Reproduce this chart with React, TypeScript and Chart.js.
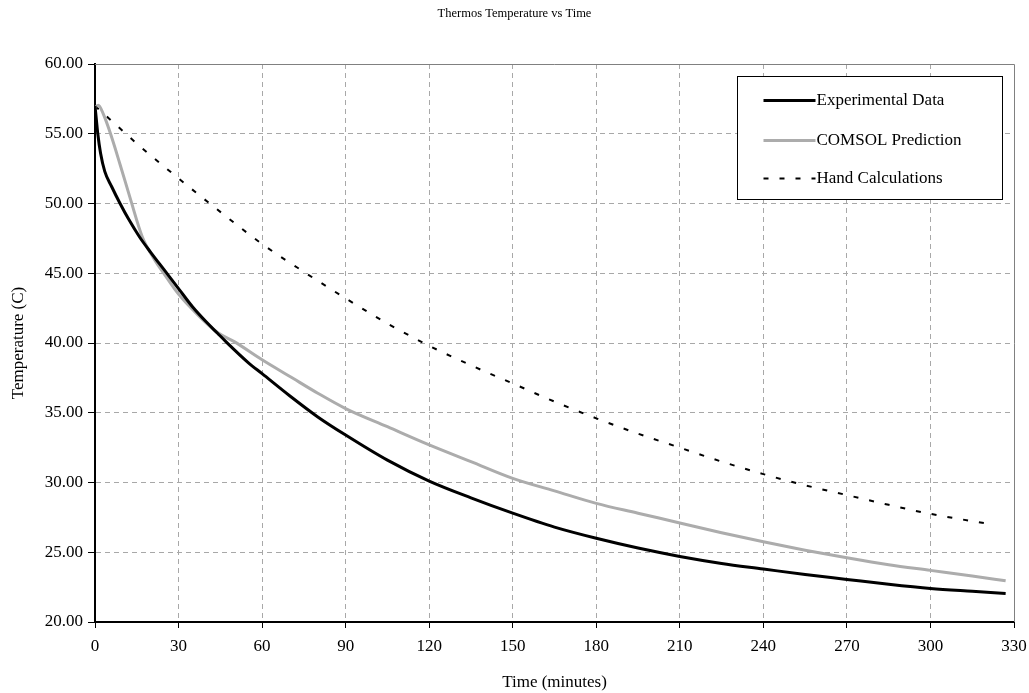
import React, { useEffect, useRef } from "react";
import { Chart, registerables } from "chart.js";

Chart.register(...registerables);

const chartTitle = "Thermos Temperature vs Time";
const xTitle = "Time (minutes)";
const yTitle = "Temperature (C)";
const seriesNames = ["Experimental Data", "COMSOL Prediction", "Hand Calculations"];

const xTicks = [0, 30, 60, 90, 120, 150, 180, 210, 240, 270, 300, 330];
const yTicks = [20, 25, 30, 35, 40, 45, 50, 55, 60];

const expTime = [0, 0.5, 1, 2, 3.5, 6, 9, 12, 16, 20, 25, 30, 35, 40, 44, 47, 55, 60, 70, 80, 90, 105, 120, 135, 150, 165, 180, 195, 210, 225, 240, 255, 270, 285, 300, 315, 327];
const expTemp = [57.0, 56.0, 55.0, 53.6, 52.3, 51.2, 50.0, 48.9, 47.6, 46.5, 45.2, 43.9, 42.6, 41.5, 40.7, 40.1, 38.6, 37.8, 36.2, 34.7, 33.4, 31.6, 30.1, 28.9, 27.8, 26.8, 26.0, 25.3, 24.7, 24.2, 23.8, 23.4, 23.05, 22.7, 22.4, 22.2, 22.05];

const comTime = [0, 1.2, 3, 5.4, 9, 12.6, 17, 21, 25, 30, 37, 44, 50, 60, 70, 80, 90, 105, 120, 135, 150, 165, 180, 195, 210, 225, 240, 255, 270, 285, 300, 315, 327];
const comTemp = [56.9, 57.05, 56.4, 55.1, 52.8, 50.4, 47.6, 46.1, 44.9, 43.5, 42.0, 40.75, 40.1, 38.8, 37.6, 36.4, 35.3, 34.0, 32.7, 31.5, 30.3, 29.4, 28.5, 27.8, 27.1, 26.4, 25.75, 25.15, 24.6, 24.1, 23.7, 23.3, 22.95];

const handTime = [0, 5, 15, 30, 45, 60, 75, 90, 105, 120, 135, 150, 165, 180, 195, 210, 225, 240, 255, 270, 285, 300, 322];
const handTemp = [57.0, 56.1, 54.3, 51.8, 49.4, 47.1, 45.1, 43.2, 41.4, 39.8, 38.4, 37.1, 35.8, 34.6, 33.5, 32.5, 31.5, 30.6, 29.8, 29.1, 28.4, 27.75, 27.0];

const FONT = "'Liberation Serif', 'Times New Roman', Times, serif";
const FS = 17;
const TITLE_FS = 12.5;

const toPoints = (xs: number[], ys: number[]) => xs.map((x, i) => ({ x, y: ys[i] }));

const framePlugin = {
  id: "frameAndLegend",
  beforeDatasetsDraw(chart: any) {
    const { ctx, chartArea: a } = chart;
    ctx.save();
    ctx.strokeStyle = "#808080";
    ctx.lineWidth = 1;
    ctx.setLineDash([]);
    ctx.beginPath();
    ctx.moveTo(a.left, Math.round(a.top) + 0.5);
    ctx.lineTo(Math.round(a.right) + 0.5, Math.round(a.top) + 0.5);
    ctx.lineTo(Math.round(a.right) + 0.5, a.bottom);
    ctx.stroke();
    ctx.restore();
  },
  afterDatasetsDraw(chart: any) {
    const { ctx, chartArea: a } = chart;
    const bx = Math.round(a.right - 277) + 0.5;
    const by = Math.round(a.top + 12) + 0.5;
    const bw = 265;
    const bh = 123;
    ctx.save();
    ctx.fillStyle = "#ffffff";
    ctx.fillRect(bx, by, bw, bh);
    ctx.strokeStyle = "#000000";
    ctx.lineWidth = 1;
    ctx.setLineDash([]);
    ctx.strokeRect(bx, by, bw, bh);
    const rows = [24, 64, 102];
    chart.data.datasets.forEach((ds: any, i: number) => {
      const y = by + rows[i];
      ctx.strokeStyle = ds.borderColor;
      ctx.lineWidth = ds.borderWidth;
      ctx.setLineDash(ds.borderDash || []);
      ctx.beginPath();
      ctx.moveTo(bx + 26, y);
      ctx.lineTo(bx + 78, y);
      ctx.stroke();
      ctx.setLineDash([]);
      ctx.fillStyle = "#000000";
      ctx.font = `${FS}px ${FONT}`;
      ctx.textAlign = "left";
      ctx.textBaseline = "middle";
      ctx.fillText(ds.label, bx + 79, y);
    });
    ctx.restore();
  },
};

export default function App() {
  const ref = useRef<HTMLCanvasElement>(null);

  useEffect(() => {
    if (!ref.current) return;
    const chart = new Chart(ref.current, {
      type: "line",
      data: {
        datasets: [
          {
            label: seriesNames[0],
            data: toPoints(expTime, expTemp),
            borderColor: "#000000",
            borderWidth: 3,
            pointRadius: 0,
            cubicInterpolationMode: "monotone",
            fill: false,
          },
          {
            label: seriesNames[1],
            data: toPoints(comTime, comTemp),
            borderColor: "#acacac",
            borderWidth: 3,
            pointRadius: 0,
            cubicInterpolationMode: "monotone",
            fill: false,
          },
          {
            label: seriesNames[2],
            data: toPoints(handTime, handTemp),
            borderColor: "#000000",
            borderWidth: 2,
            borderDash: [5, 11],
            pointRadius: 0,
            cubicInterpolationMode: "monotone",
            fill: false,
          },
        ],
      },
      options: {
        animation: false,
        responsive: false,
        events: [],
        layout: { padding: { left: 0, right: 0, top: 0, bottom: 0 } },
        plugins: {
          legend: { display: false },
          tooltip: { enabled: false },
          title: {
            display: true,
            text: chartTitle,
            color: "#000",
            font: { family: FONT, size: TITLE_FS, weight: "normal" },
            padding: { top: 6.5, bottom: 42.5 },
          },
        },
        scales: {
          x: {
            type: "linear",
            min: 0,
            max: 330,
            afterBuildTicks: (s: any) => {
              s.ticks = xTicks.map((v) => ({ value: v }));
            },
            afterFit: (s: any) => {
              s.height = 71;
              s.paddingRight = 15;
            },
            ticks: {
              color: "#000",
              font: { family: FONT, size: FS },
              padding: 8,
              maxRotation: 0,
              autoSkip: false,
              callback: (v: any) => String(v),
            },
            grid: {
              color: (c: any) => (c.tick && (c.tick.value === 0 || c.tick.value === 330) ? "rgba(0,0,0,0)" : "#a8a8a8"),
              tickColor: "#000",
              tickLength: 6,
              tickBorderDash: [],
              lineWidth: 1,
            },
            border: { display: true, color: "#000", width: 2, dash: [5, 4] },
            title: {
              display: true,
              text: xTitle,
              color: "#000",
              font: { family: FONT, size: FS },
              padding: { top: 6, bottom: 0 },
            },
          },
          y: {
            type: "linear",
            min: 20,
            max: 60,
            afterBuildTicks: (s: any) => {
              s.ticks = yTicks.map((v) => ({ value: v }));
            },
            afterFit: (s: any) => {
              s.width = 95;
            },
            ticks: {
              color: "#000",
              font: { family: FONT, size: FS },
              padding: 5,
              autoSkip: false,
              callback: (v: any) => Number(v).toFixed(2),
            },
            grid: {
              color: (c: any) => (c.tick && (c.tick.value === 20 || c.tick.value === 60) ? "rgba(0,0,0,0)" : "#a8a8a8"),
              tickColor: "#000",
              tickLength: 7,
              tickBorderDash: [],
              lineWidth: 1,
            },
            border: { display: true, color: "#000", width: 2, dash: [5, 4] },
            title: {
              display: true,
              text: yTitle,
              color: "#000",
              font: { family: FONT, size: FS },
              padding: { top: 8, bottom: 0 },
            },
          },
        },
      },
      plugins: [framePlugin],
    } as any);
    return () => chart.destroy();
  }, []);

  return (
    <div style={{ position: "fixed", left: 0, top: 0, width: 1029, height: 693, background: "#fff" }}>
      <canvas ref={ref} width={1029} height={693} style={{ display: "block", width: 1029, height: 693 }} />
    </div>
  );
}
